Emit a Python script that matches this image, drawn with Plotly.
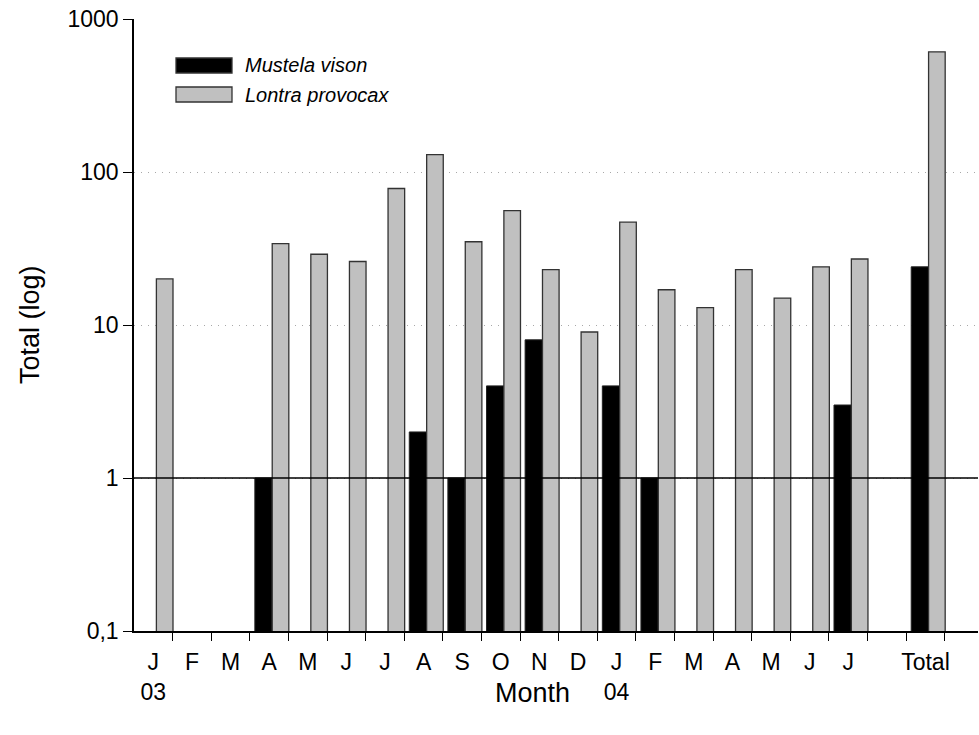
import plotly.graph_objects as go

# ---- data ----
month_labels = ["J", "F", "M", "A", "M", "J", "J", "A", "S", "O", "N", "D",
                "J", "F", "M", "A", "M", "J", "J", "", "Total"]
year_labels = {0: "03", 12: "04"}
series_names = ["Mustela vison", "Lontra provocax"]
mustela = [None, None, None, 1, None, None, None, 2, 1, 4, 8, None,
           4, 1, None, None, None, None, 3, None, 24]
lontra = [20, None, None, 34, 29, 26, 78, 130, 35, 56, 23, 9,
          47, 17, 13, 23, 15, 24, 27, None, 610]
y_tick_vals = [0.1, 1, 10, 100, 1000]
y_tick_text = ["0,1", "1", "10", "100", "1000"]
x_title = "Month"
y_title = "Total (log)"

FONT = "Liberation Sans, Arial, sans-serif"
TICK_SIZE = 23
LEG_SIZE = 20
TITLE_SIZE = 27
W, H = 979, 735
ML, MR, MT, MB = 134, 1, 19, 104
PW, PH = W - ML - MR, H - MT - MB

def px_x(px):
    return (px - ML) / PW

def px_y(py):
    return (H - MB - py) / PH

n = len(month_labels)
xs = list(range(n))
xrange_ = [-0.5, 21.36]

ticktext = [m + ("<br>" + year_labels[i] if i in year_labels else "")
            for i, m in enumerate(month_labels)]

fig = go.Figure()
fig.add_trace(go.Bar(
    x=xs, y=mustela, name=series_names[0], offset=-0.37, width=0.45,
    marker=dict(color="black", line=dict(color="#222222", width=1)),
    showlegend=False,
))
fig.add_trace(go.Bar(
    x=xs, y=lontra, name=series_names[1], offset=0.08, width=0.43,
    marker=dict(color="#c0c0c0", line=dict(color="#333333", width=1.3)),
    showlegend=False,
))
# dummy trace to activate xaxis2 (month labels)
fig.add_trace(go.Scatter(x=[None], y=[None], xaxis="x2", yaxis="y",
                         showlegend=False, hoverinfo="skip"))

fig.update_layout(
    width=W, height=H,
    margin=dict(l=ML, r=MR, t=MT, b=MB, autoexpand=False),
    paper_bgcolor="white", plot_bgcolor="white",
    barmode="overlay",
    font=dict(family=FONT, size=TICK_SIZE, color="black"),
    xaxis=dict(
        range=xrange_, tickvals=[i + 0.5 for i in range(n)],
        showticklabels=False, ticks="outside", ticklen=8, tickwidth=1.3,
        tickcolor="black", showline=True, linecolor="black", linewidth=1.5,
        showgrid=False, zeroline=False, automargin=False,
    ),
    xaxis2=dict(
        overlaying="x", anchor="y", side="bottom", range=xrange_,
        tickvals=xs, ticktext=ticktext, ticks="outside", ticklen=10,
        tickcolor="rgba(0,0,0,0)", showline=False, showgrid=False,
        zeroline=False, automargin=False,
        tickfont=dict(family=FONT, size=TICK_SIZE, color="black"),
    ),
    yaxis=dict(
        type="log", range=[-1, 3], tickvals=y_tick_vals, ticktext=y_tick_text,
        ticks="outside", ticklen=9, tickwidth=1.3, tickcolor="black",
        showline=True, linecolor="black", linewidth=1.5,
        showgrid=True, gridcolor="#a8a8a8", griddash="1px,6px", gridwidth=1,
        zeroline=False, automargin=False,
        tickfont=dict(family=FONT, size=TICK_SIZE, color="black"),
    ),
)

# reference line at 1
fig.add_shape(type="line", xref="paper", yref="y", x0=0, x1=1, y0=1, y1=1,
              line=dict(color="black", width=1.5), layer="above")

# custom legend
legend_colors = ["black", "#c0c0c0"]
legend_tops = [58, 87]
for name, col, top in zip(series_names, legend_colors, legend_tops):
    fig.add_shape(type="rect", xref="paper", yref="paper",
                  x0=px_x(176), x1=px_x(232), y0=px_y(top + 15), y1=px_y(top),
                  fillcolor=col, line=dict(color="#333333", width=1.3))
    fig.add_annotation(xref="paper", yref="paper", x=px_x(243),
                       y=px_y(top + 7.5), text="<i>" + name + "</i>",
                       showarrow=False, xanchor="left", yanchor="middle",
                       font=dict(family=FONT, size=LEG_SIZE, color="black"))

# axis titles
fig.add_annotation(xref="paper", yref="paper", x=px_x(532), y=px_y(693),
                   text=x_title, showarrow=False, xanchor="center",
                   yanchor="middle", font=dict(family=FONT, size=TITLE_SIZE))
fig.add_annotation(xref="paper", yref="paper", x=px_x(30), y=0.5,
                   text=y_title, textangle=-90, showarrow=False,
                   xanchor="center", yanchor="middle",
                   font=dict(family=FONT, size=TITLE_SIZE))

fig.write_html(
    "out.html",
    config={"displayModeBar": False},
    post_script="document.body.style.margin='0';"
                "document.body.style.overflow='hidden';",
)
